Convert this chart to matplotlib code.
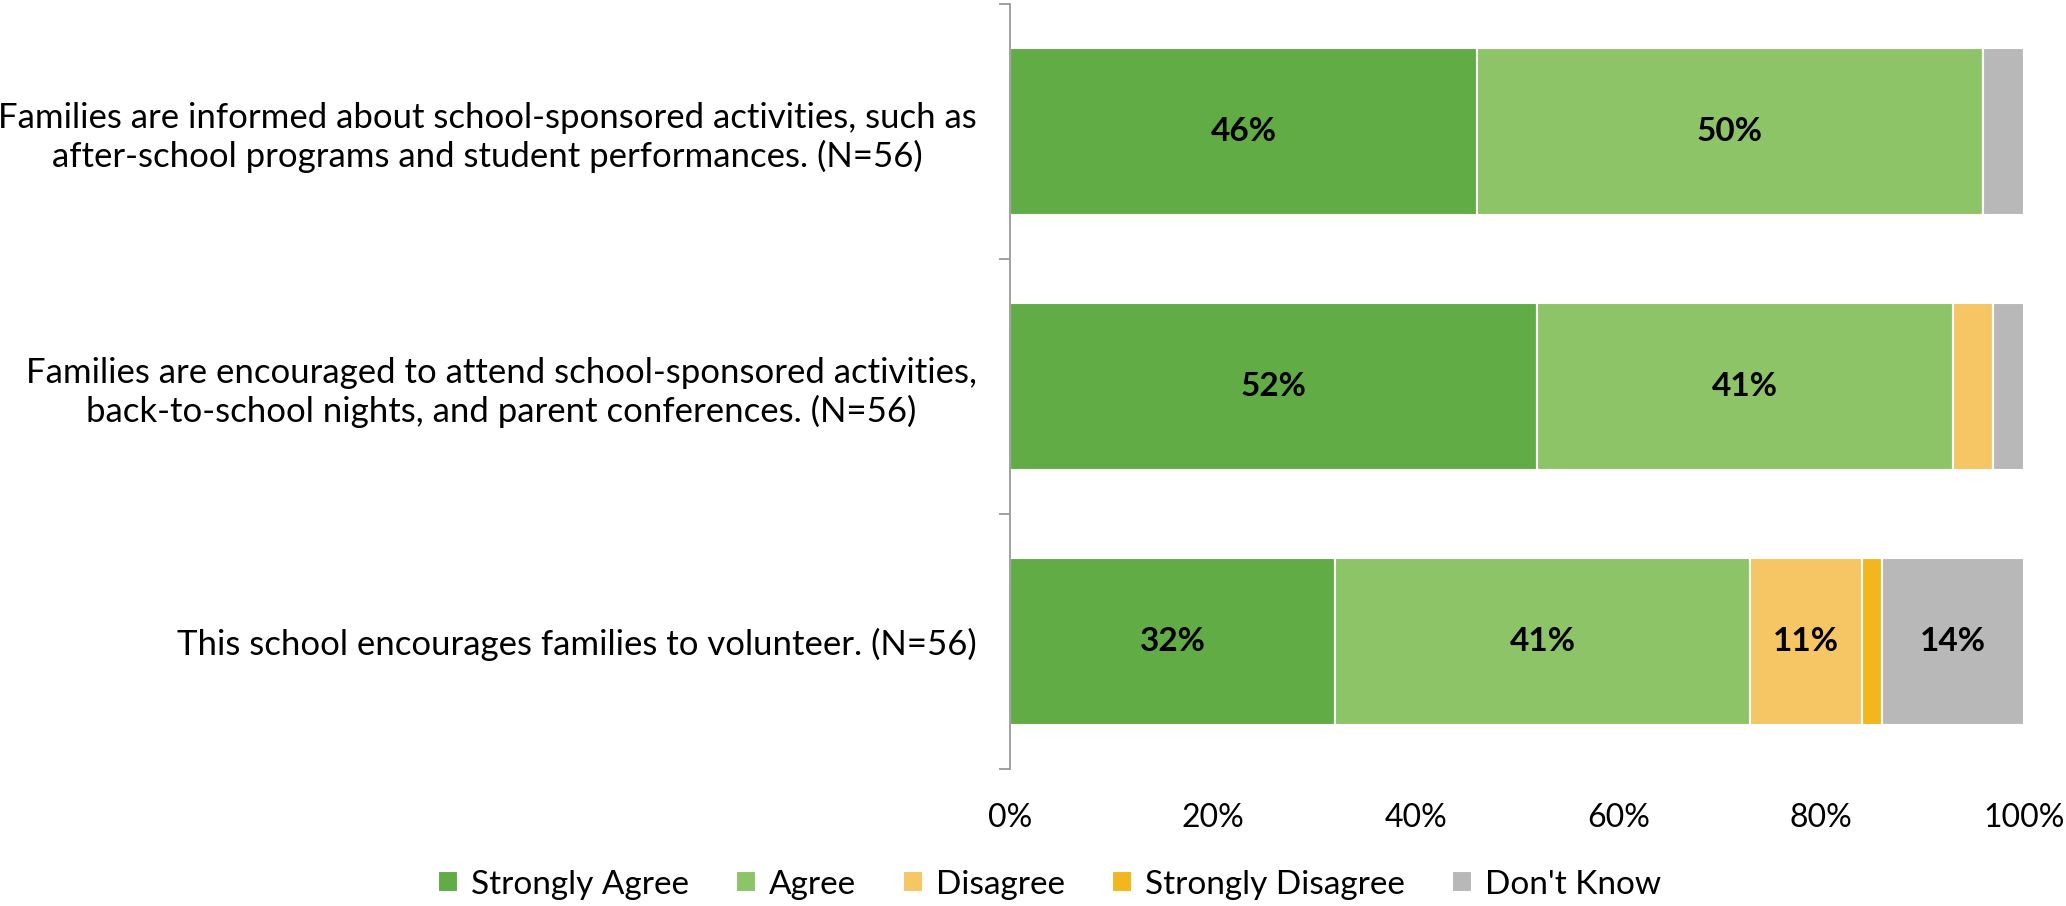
import numpy as np
import matplotlib.pyplot as plt
from matplotlib.ticker import FuncFormatter

plt.rcParams['font.family'] = ['Lato', 'DejaVu Sans']

questions = [
    "Families are informed about school-sponsored activities, such as\nafter-school programs and student performances. (N=56)",
    "Families are encouraged to attend school-sponsored activities,\nback-to-school nights, and parent conferences. (N=56)",
    "This school encourages families to volunteer. (N=56)",
]
responses = ["Strongly Agree", "Agree", "Disagree", "Strongly Disagree", "Don't Know"]
strongly_agree = [46, 52, 32]
agree = [50, 41, 41]
disagree = [0, 4, 11]
strongly_disagree = [0, 0, 2]
dont_know = [4, 3, 14]
colors = ["#62AC46", "#8DC468", "#F6C564", "#F2B61F", "#B8B8B8"]

series = [strongly_agree, agree, disagree, strongly_disagree, dont_know]

fig = plt.figure(figsize=(20.66, 9.06), dpi=100)
ax = fig.add_axes([0.489, 0.1507, 0.4906, 0.8449])

y = np.arange(len(questions))
left = np.zeros(len(questions))
for vals, name, col in zip(series, responses, colors):
    vals = np.array(vals, dtype=float)
    bars = ax.barh(y, vals, left=left, height=0.655, color=col,
                   edgecolor="white", linewidth=1.5, label=name)
    for b, v in zip(bars, vals):
        if v >= 10:
            ax.text(b.get_x() + b.get_width() / 2, b.get_y() + b.get_height() / 2,
                    f"{v:.0f}%", ha="center", va="center",
                    fontsize=24, fontweight="bold", color="black")
    left += vals

ax.set_xlim(0, 100)
ax.set_ylim(len(questions) - 0.5, -0.5)
ax.set_xticks(np.arange(0, 101, 20))
ax.xaxis.set_major_formatter(FuncFormatter(lambda v, p: f"{v:.0f}%"))
ax.set_yticks(y)
ax.set_yticklabels(questions, fontsize=25, ha="right", multialignment="center")
ax.set_yticks(np.arange(-0.5, len(questions)), minor=True)
ax.tick_params(axis="y", which="major", length=0, pad=24)
ax.tick_params(axis="y", which="minor", length=8, color="#999999", width=1.3)
ax.tick_params(axis="x", length=0, labelsize=23, pad=24)

for side in ["top", "right", "bottom"]:
    ax.spines[side].set_visible(False)
ax.spines["left"].set_color("#999999")
ax.spines["left"].set_linewidth(1.3)

handles, labels = ax.get_legend_handles_labels()
fig.legend(handles, labels, loc="lower center", bbox_to_anchor=(0.508, -0.026),
           ncol=5, frameon=False, fontsize=24, handlelength=0.6, handleheight=0.6,
           handletextpad=0.4, columnspacing=1.4)

fig.savefig("out.png", dpi=100)
